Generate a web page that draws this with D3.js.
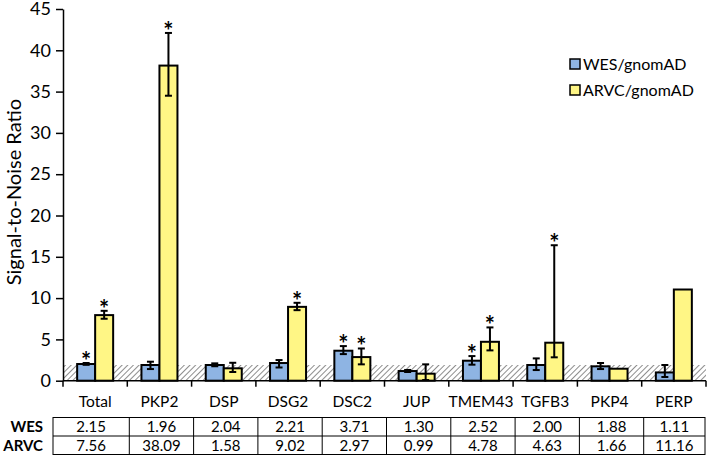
<!DOCTYPE html>
<html><head><meta charset="utf-8">
<script src="https://cdn.jsdelivr.net/npm/d3@7"></script>
<style>body{margin:0;background:#fff}svg{display:block}text{font-family:Lato,"Open Sans",sans-serif}</style>
</head><body><div id="c"></div>
<script>
const categories = ["Total","PKP2","DSP","DSG2","DSC2","JUP","TMEM43","TGFB3","PKP4","PERP"];
const seriesNames = ["WES/gnomAD","ARVC/gnomAD"];
const wesBar  = [2.02, 1.90, 1.90, 2.14, 3.63, 1.17, 2.42, 1.90, 1.74, 1.00];
const arvcBar = [7.94, 38.15, 1.50, 8.94, 2.86, 0.85, 4.71, 4.60, 1.45, 11.04];
const wesErrLow  = [1.92, 1.41, 1.75, 1.60, 3.22, 1.05, 1.94, 1.29, 1.41, 0.45];
const wesErrHigh = [2.14, 2.30, 2.10, 2.50, 4.19, 1.30, 2.98, 2.70, 2.14, 1.90];
const arvcErrLow  = [7.50, 34.5, 1.05, 8.54, 1.98, 0.08, 3.67, 2.83, null, null];
const arvcErrHigh = [8.46, 42.1, 2.17, 9.43, 3.90, 1.98, 6.45, 16.4, null, null];
const wesSig  = [1,0,0,0,1,0,1,0,0,0];
const arvcSig = [1,1,0,1,1,0,1,1,0,0];
const noiseBand = 1.9;
const tableRows = ["WES","ARVC"];
const wesTable  = ["2.15","1.96","2.04","2.21","3.71","1.30","2.52","2.00","1.88","1.11"];
const arvcTable = ["7.56","38.09","1.58","9.02","2.97","0.99","4.78","4.63","1.66","11.16"];
const yTicks = [0,5,10,15,20,25,30,35,40,45];

const W=709,H=455;
const colors=["#8EB4E3","#FFF685"];
const svg=d3.select("#c").append("svg").attr("width",W).attr("height",H);
const x=d3.scaleBand().domain(categories).range([63,706]);
const y=d3.scaleLinear().domain([0,45]).range([380.7,9]);
const bw=18;

// hatch pattern
const defs=svg.append("defs");
const pat=defs.append("pattern").attr("id","hatch").attr("patternUnits","userSpaceOnUse")
  .attr("width",4).attr("height",4).attr("patternTransform","rotate(45)");
pat.append("rect").attr("width",4).attr("height",4).attr("fill","#fff");
pat.append("line").attr("x1",0).attr("y1",0).attr("x2",0).attr("y2",4).attr("stroke","#707070").attr("stroke-width",1.6);
svg.append("rect").attr("x",63).attr("y",y(noiseBand)).attr("width",706-63).attr("height",y(0)-y(noiseBand)).attr("fill","url(#hatch)");

// bars
const series=[
 {vals:wesBar,lo:wesErrLow,hi:wesErrHigh,sig:wesSig,off:-bw},
 {vals:arvcBar,lo:arvcErrLow,hi:arvcErrHigh,sig:arvcSig,off:0}
];
series.forEach((s,si)=>{
  const g=svg.append("g");
  categories.forEach((c,i)=>{
    const cx=x(c)+x.bandwidth()/2+s.off;
    g.append("rect").attr("x",cx).attr("y",y(s.vals[i])).attr("width",bw).attr("height",y(0)-y(s.vals[i]))
      .attr("fill",colors[si]).attr("stroke","#000").attr("stroke-width",2);
    const mx=cx+bw/2;
    let top=y(s.vals[i]);
    if(s.lo[i]!=null){
      const yl=y(s.lo[i]),yh=y(s.hi[i]);
      g.append("line").attr("x1",mx).attr("x2",mx).attr("y1",yl).attr("y2",yh).attr("stroke","#000").attr("stroke-width",2);
      [yl,yh].forEach(v=>g.append("line").attr("x1",mx-3.5).attr("x2",mx+3.5).attr("y1",v).attr("y2",v).attr("stroke","#000").attr("stroke-width",2));
      top=Math.min(top,yh);
    }
    if(s.sig[i]){
      g.append("text").attr("x",mx).attr("y",top+7).attr("text-anchor","middle")
        .attr("font-family","Liberation Sans").attr("font-weight","bold").attr("font-size",24).attr("fill","#000").text("*");
    }
  });
});

// axes
const yAxis=d3.axisLeft(y).tickValues(yTicks).tickSize(7).tickSizeOuter(0);
const ga=svg.append("g").attr("transform","translate(63,0)").call(yAxis);
ga.select(".domain").attr("stroke","#000").attr("stroke-width",1.5);
ga.selectAll(".tick line").attr("stroke","#000").attr("stroke-width",1.5);
ga.selectAll(".tick text").attr("font-size",18).attr("font-family","Lato").attr("fill","#000").attr("x",-12);

svg.append("line").attr("x1",63).attr("x2",706).attr("y1",y(0)).attr("y2",y(0)).attr("stroke","#000").attr("stroke-width",1.5);
const bounds=categories.map(c=>x(c)).concat([706]);
bounds.forEach(b=>svg.append("line").attr("x1",b).attr("x2",b).attr("y1",y(0)).attr("y2",y(0)+6).attr("stroke","#000").attr("stroke-width",1.5));

// category labels
categories.forEach(c=>svg.append("text").attr("x",x(c)+x.bandwidth()/2).attr("y",402).attr("dy","0.35em")
  .attr("text-anchor","middle").attr("font-size",15.5).attr("fill","#000").text(c));

// y title
svg.append("text").attr("transform","translate(14,192) rotate(-90)").attr("text-anchor","middle").attr("dy","0.35em")
  .attr("font-size",20).attr("fill","#000").text("Signal-to-Noise Ratio");

// table
const tTop=417.5,rowH=18.5,tLeft=53,tRight=705;
const tab=svg.append("g");
const colEdges=[tLeft].concat(categories.slice(1).map(c=>x(c)+2)).concat([tRight]);
tab.append("rect").attr("x",tLeft).attr("y",tTop).attr("width",tRight-tLeft).attr("height",rowH*2).attr("fill","none").attr("stroke","#000").attr("stroke-width",1);
tab.append("line").attr("x1",tLeft).attr("x2",tRight).attr("y1",tTop+rowH).attr("y2",tTop+rowH).attr("stroke","#000");
colEdges.slice(1,-1).forEach(e=>tab.append("line").attr("x1",e).attr("x2",e).attr("y1",tTop).attr("y2",tTop+2*rowH).attr("stroke","#000"));
[wesTable,arvcTable].forEach((row,ri)=>{
  tab.append("text").attr("x",43).attr("y",tTop+rowH*ri+rowH/2).attr("dy","0.35em").attr("text-anchor","end")
    .attr("font-size",15).attr("font-weight","bold").attr("fill","#000").text(tableRows[ri]);
  row.forEach((v,i)=>tab.append("text").attr("x",(colEdges[i]+colEdges[i+1])/2).attr("y",tTop+rowH*ri+rowH/2).attr("dy","0.35em")
    .attr("text-anchor","middle").attr("font-size",15).attr("fill","#000").text(v));
});

// legend
const leg=svg.append("g");
seriesNames.forEach((n,i)=>{
  const ly=64+i*26;
  leg.append("rect").attr("x",570).attr("y",ly-5).attr("width",10).attr("height",10).attr("fill",colors[i]).attr("stroke","#000").attr("stroke-width",1.5);
  leg.append("text").attr("x",583).attr("y",ly).attr("dy","0.35em").attr("font-size",16).attr("fill","#000").text(n);
});
</script></body></html>
